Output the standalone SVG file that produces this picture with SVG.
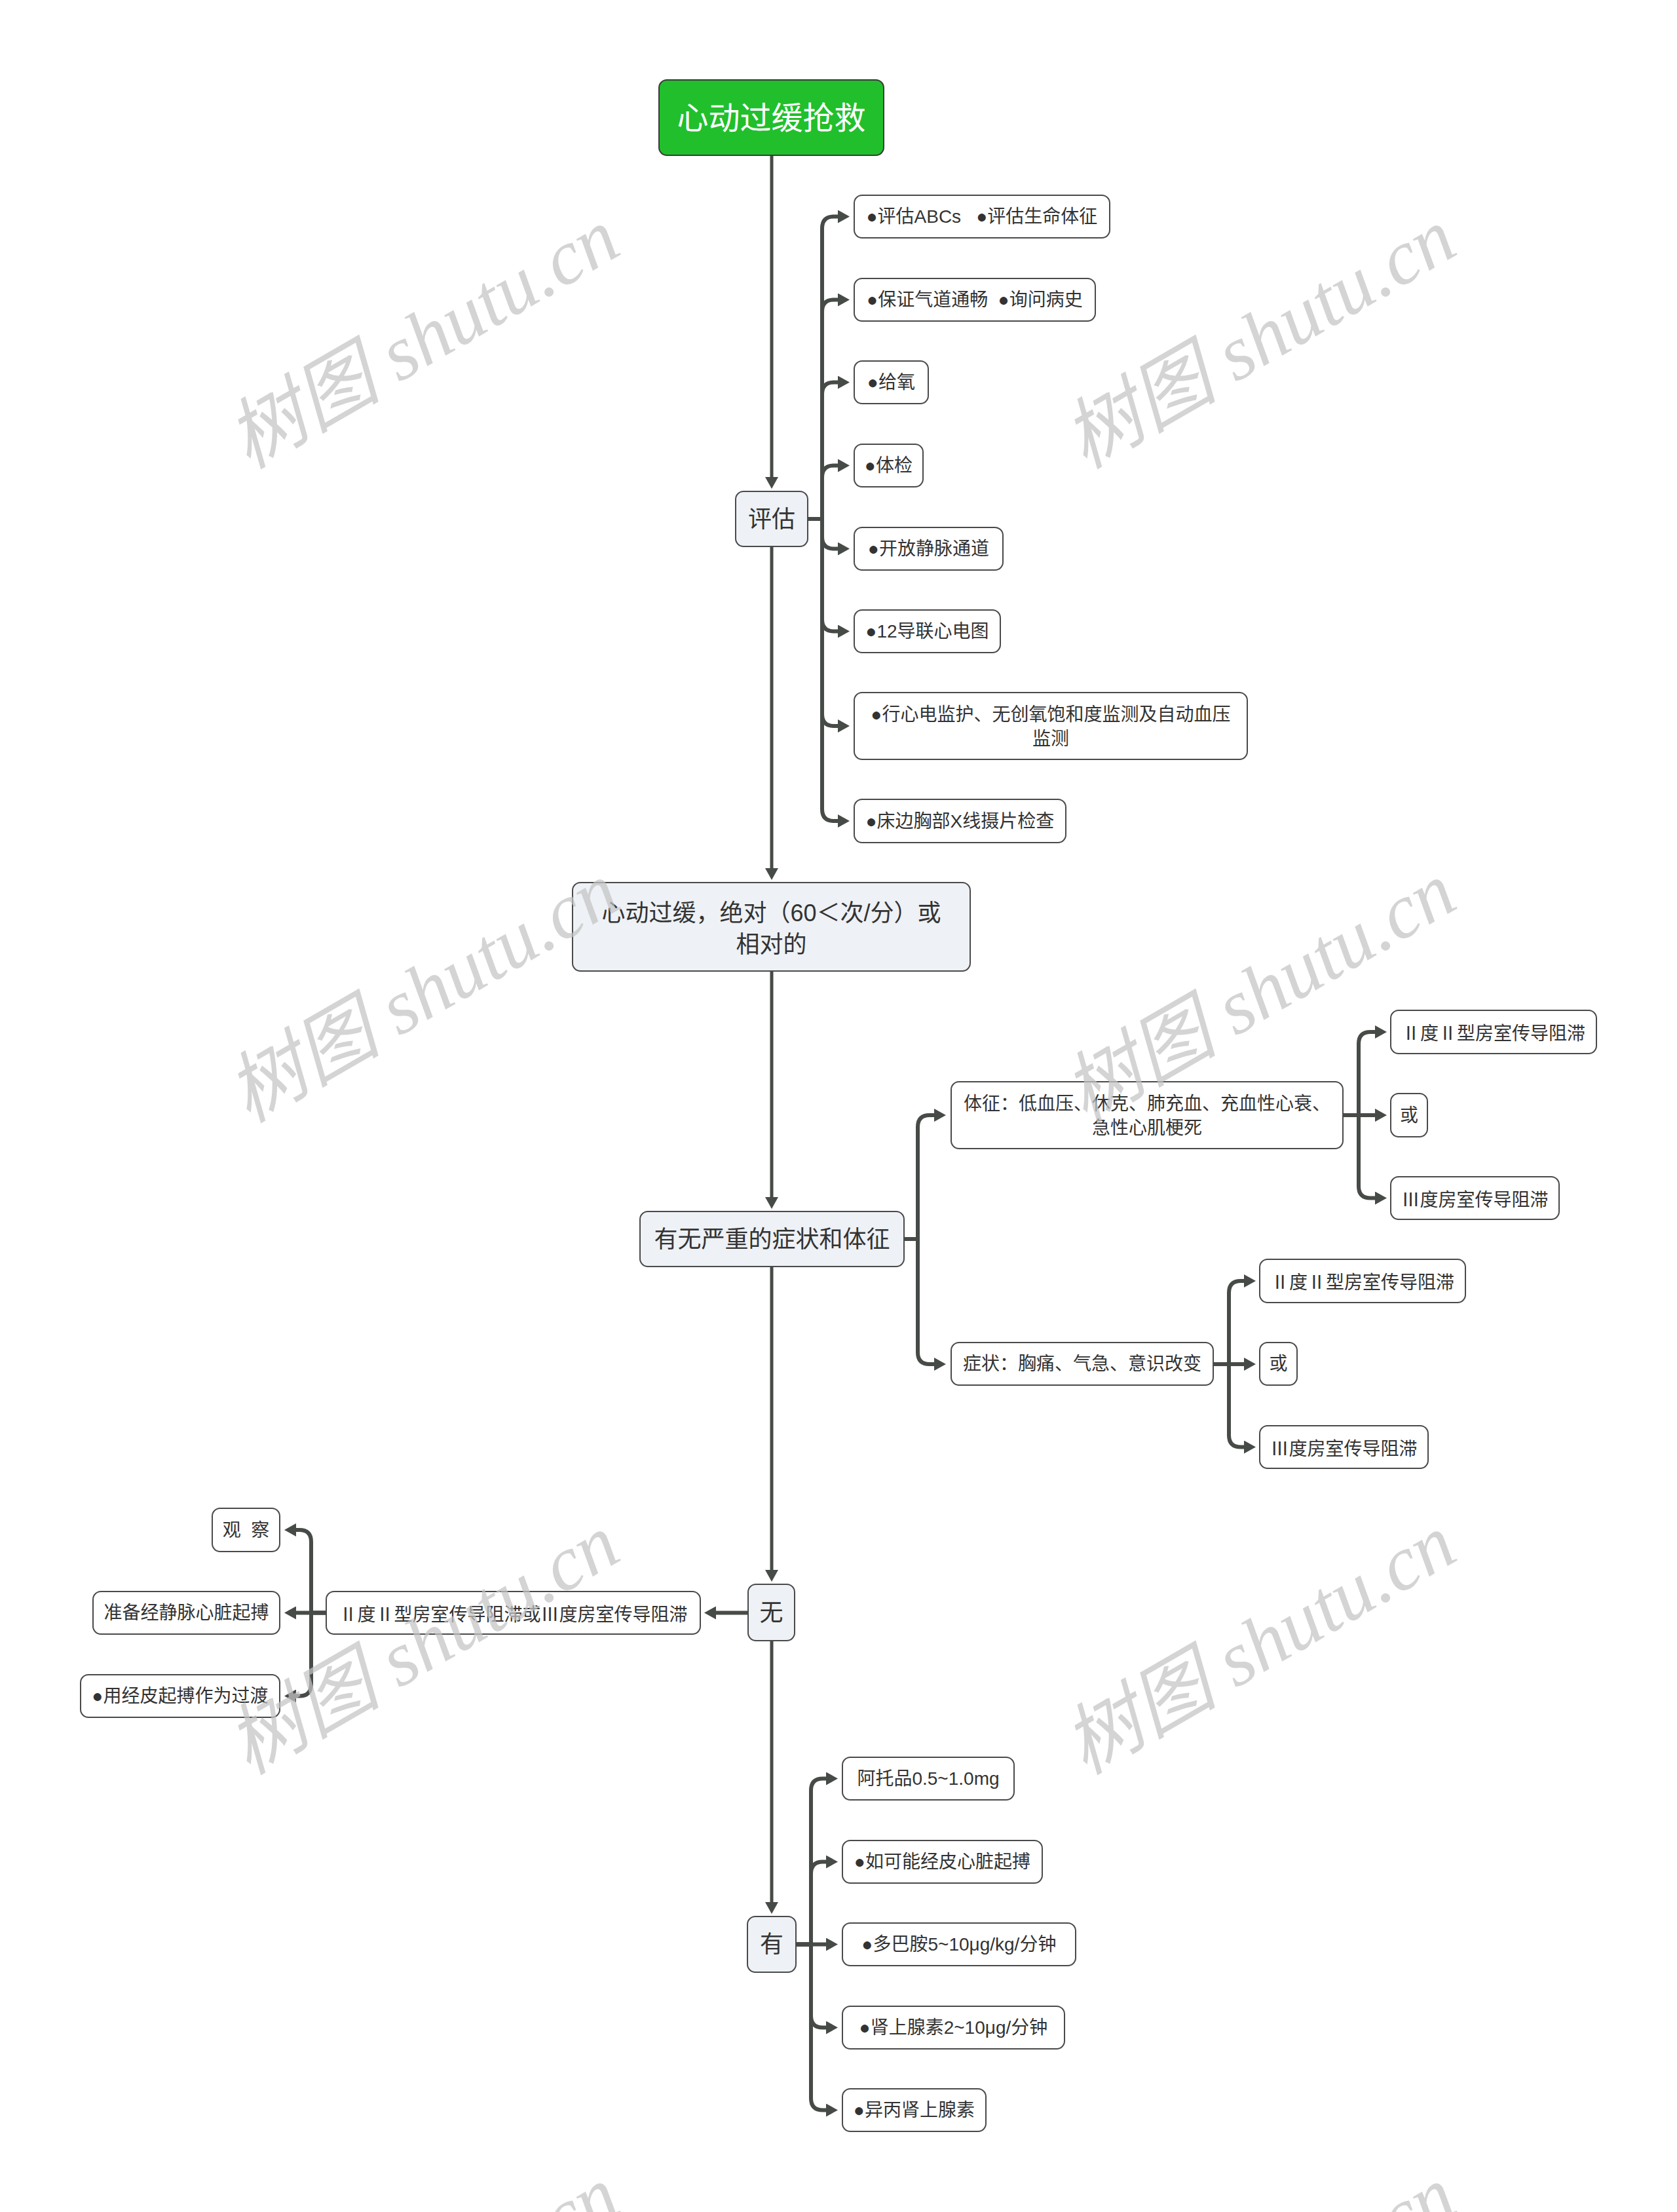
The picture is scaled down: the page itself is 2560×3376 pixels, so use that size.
<svg xmlns="http://www.w3.org/2000/svg" width="2560" height="3376" viewBox="0 0 2560 3376">
<defs>
<marker id="ah" viewBox="0 0 18 20" refX="8" refY="10" markerWidth="18" markerHeight="20" markerUnits="userSpaceOnUse" orient="auto">
<path d="M0,0 L18,10 L0,20 z" fill="#474b47"/>
</marker>
<style>
.bg{fill:#ffffff}
.root{fill:#21bf2c;stroke:#3a3a3a;stroke-width:2}
.main{fill:#eef1f5;stroke:#4a4a4a;stroke-width:2}
.leaf{fill:#ffffff;stroke:#4a4a4a;stroke-width:2}
.t{font-family:'Liberation Sans','Noto Sans CJK SC',sans-serif;fill:#333333;text-anchor:middle;dominant-baseline:central}
.cjk{font-family:'Noto Sans CJK SC',sans-serif;font-feature-settings:"fwid" 1}
.t28{font-size:28px}
.t36{font-size:36px}
.t48{font-size:48px;fill:#ffffff}
.ln{fill:none;stroke:#474b47;stroke-width:6;marker-end:url(#ah)}
.mln{fill:none;stroke:#474b47;stroke-width:5;marker-end:url(#ah)}
.wm{font-family:'Liberation Serif','Noto Sans CJK SC',serif;font-style:italic;font-size:118px;fill:#c4c4c4;opacity:0.72;text-anchor:middle;dominant-baseline:central}
</style>
</defs>
<rect class="bg" x="0" y="0" width="2560" height="3376"/>

<g id="connectors">
<path class="mln" d="M1178,237 V736"/>
<path class="mln" d="M1178,834 V1333"/>
<path class="mln" d="M1178,1482 V1835"/>
<path class="mln" d="M1178,1933 V2404"/>
<path class="mln" d="M1178,2504 V2911"/>

<path class="ln" d="M1233,792 H1255 V348.5 Q1255,330.5 1273,330.5 H1287"/>
<path class="ln" d="M1233,792 H1255 V475.5 Q1255,457.5 1273,457.5 H1287"/>
<path class="ln" d="M1233,792 H1255 V601.5 Q1255,583.5 1273,583.5 H1287"/>
<path class="ln" d="M1233,792 H1255 V728.5 Q1255,710.5 1273,710.5 H1287"/>
<path class="ln" d="M1233,792 H1255 V819.5 Q1255,837.5 1273,837.5 H1287"/>
<path class="ln" d="M1233,792 H1255 V945.5 Q1255,963.5 1273,963.5 H1287"/>
<path class="ln" d="M1233,792 H1255 V1090 Q1255,1108 1273,1108 H1287"/>
<path class="ln" d="M1233,792 H1255 V1235 Q1255,1253 1273,1253 H1287"/>

<path class="ln" d="M1380,1891 H1401 V1720 Q1401,1702 1419,1702 H1434"/>
<path class="ln" d="M1380,1891 H1401 V2064 Q1401,2082 1419,2082 H1434"/>

<path class="ln" d="M2050,1702 H2074 V1593 Q2074,1575 2092,1575 H2107"/>
<path class="ln" d="M2050,1702 H2107"/>
<path class="ln" d="M2050,1702 H2074 V1810.5 Q2074,1828.5 2092,1828.5 H2107"/>

<path class="ln" d="M1852,2082 H1876 V1973 Q1876,1955 1894,1955 H1907"/>
<path class="ln" d="M1852,2082 H1907"/>
<path class="ln" d="M1852,2082 H1876 V2190.5 Q1876,2208.5 1894,2208.5 H1907"/>

<path class="ln" d="M1142,2461.5 H1085"/>
<path class="ln" d="M498,2461.5 H475 V2353 Q475,2335 457,2335 H444"/>
<path class="ln" d="M498,2461.5 H444"/>
<path class="ln" d="M498,2461.5 H475 V2570.5 Q475,2588.5 457,2588.5 H444"/>

<path class="ln" d="M1215,2967.5 H1238 V2732.5 Q1238,2714.5 1256,2714.5 H1269"/>
<path class="ln" d="M1215,2967.5 H1238 V2859.5 Q1238,2841.5 1256,2841.5 H1269"/>
<path class="ln" d="M1215,2967.5 H1269"/>
<path class="ln" d="M1215,2967.5 H1238 V3076.5 Q1238,3094.5 1256,3094.5 H1269"/>
<path class="ln" d="M1215,2967.5 H1238 V3202.5 Q1238,3220.5 1256,3220.5 H1269"/>
</g>

<g id="n-root"><rect class="root" x="1006" y="122" width="343" height="115" rx="12"/><text class="t t48" x="1177.5" y="180">心动过缓抢救</text></g>

<g id="n-pinggu"><rect class="main" x="1123" y="750" width="110" height="84" rx="12"/><text class="t t36" x="1178" y="792">评估</text></g>
<g id="n-p1"><rect class="leaf" x="1304" y="298" width="390" height="65" rx="12"/><text class="t t28" x="1499" y="330.5" style="white-space:pre">●评估ABCs   ●评估生命体征</text></g>
<g id="n-p2"><rect class="leaf" x="1304" y="425" width="368" height="65" rx="12"/><text class="t t28" x="1488" y="457.5" style="white-space:pre">●保证气道通畅  ●询问病史</text></g>
<g id="n-p3"><rect class="leaf" x="1304" y="551" width="113" height="65" rx="12"/><text class="t t28" x="1360.5" y="583.5">●给氧</text></g>
<g id="n-p4"><rect class="leaf" x="1304" y="678" width="105" height="65" rx="12"/><text class="t t28" x="1356.5" y="710.5">●体检</text></g>
<g id="n-p5"><rect class="leaf" x="1304" y="805" width="227" height="65" rx="12"/><text class="t t28" x="1417.5" y="837.5">●开放静脉通道</text></g>
<g id="n-p6"><rect class="leaf" x="1304" y="931" width="223" height="65" rx="12"/><text class="t t28" x="1415.5" y="963.5">●12导联心电图</text></g>
<g id="n-p7"><rect class="leaf" x="1304" y="1057" width="600" height="102" rx="12"/><text class="t t28" x="1604" y="1090">●行心电监护、无创氧饱和度监测及自动血压</text><text class="t t28" x="1604" y="1127">监测</text></g>
<g id="n-p8"><rect class="leaf" x="1304" y="1220" width="323" height="66" rx="12"/><text class="t t28" x="1465.5" y="1253">●床边胸部X线摄片检查</text></g>

<g id="n-xdgh"><rect class="main" x="874" y="1347" width="607" height="135" rx="12"/><text class="t t36" x="1177.5" y="1393">心动过缓，绝对（60＜次/分）或</text><text class="t t36" x="1177.5" y="1441">相对的</text></g>

<g id="n-ywyz"><rect class="main" x="977" y="1849" width="403" height="84" rx="12"/><text class="t t36" x="1178.5" y="1891">有无严重的症状和体征</text></g>
<g id="n-tizheng"><rect class="leaf" x="1452" y="1651" width="598" height="102" rx="12"/><text class="t t28" x="1751" y="1684">体征：低血压、休克、肺充血、充血性心衰、</text><text class="t t28" x="1751" y="1721">急性心肌梗死</text></g>
<g id="n-zhengzhuang"><rect class="leaf" x="1452" y="2049" width="400" height="65" rx="12"/><text class="t t28" x="1652" y="2081.5">症状：胸痛、气急、意识改变</text></g>
<g id="n-tz1"><rect class="leaf" x="2123" y="1542" width="314" height="66" rx="12"/><text class="t t28 cjk" x="2280" y="1575">Ⅱ度Ⅱ型房室传导阻滞</text></g>
<g id="n-tz2"><rect class="leaf" x="2123" y="1669" width="56" height="66" rx="12"/><text class="t t28" x="2151" y="1702">或</text></g>
<g id="n-tz3"><rect class="leaf" x="2123" y="1796" width="257" height="65" rx="12"/><text class="t t28 cjk" x="2251.5" y="1828.5">Ⅲ度房室传导阻滞</text></g>
<g id="n-zz1"><rect class="leaf" x="1923" y="1922" width="314" height="66" rx="12"/><text class="t t28 cjk" x="2080" y="1955">Ⅱ度Ⅱ型房室传导阻滞</text></g>
<g id="n-zz2"><rect class="leaf" x="1923" y="2049" width="57" height="65" rx="12"/><text class="t t28" x="1951.5" y="2081.5">或</text></g>
<g id="n-zz3"><rect class="leaf" x="1923" y="2176" width="257" height="65" rx="12"/><text class="t t28 cjk" x="2051.5" y="2208.5">Ⅲ度房室传导阻滞</text></g>

<g id="n-wu"><rect class="main" x="1142" y="2418" width="71" height="86" rx="12"/><text class="t t36" x="1177.5" y="2461">无</text></g>
<g id="n-wu-mid"><rect class="leaf" x="498" y="2429" width="571" height="65" rx="12"/><text class="t t28 cjk" x="783.5" y="2461.5">Ⅱ度Ⅱ型房室传导阻滞或Ⅲ度房室传导阻滞</text></g>
<g id="n-w1"><rect class="leaf" x="324" y="2302" width="103" height="66" rx="12"/><text class="t t28" x="375.5" y="2335" style="white-space:pre">观  察</text></g>
<g id="n-w2"><rect class="leaf" x="142" y="2429" width="285" height="65" rx="12"/><text class="t t28" x="284.5" y="2461.5">准备经静脉心脏起搏</text></g>
<g id="n-w3"><rect class="leaf" x="123" y="2556" width="304" height="65" rx="12"/><text class="t t28" x="275" y="2588.5">●用经皮起搏作为过渡</text></g>

<g id="n-you"><rect class="main" x="1141" y="2925" width="74" height="85" rx="12"/><text class="t t36" x="1178" y="2967.5">有</text></g>
<g id="n-y1"><rect class="leaf" x="1286" y="2682" width="262" height="65" rx="12"/><text class="t t28" x="1417" y="2714.5">阿托品0.5~1.0mg</text></g>
<g id="n-y2"><rect class="leaf" x="1286" y="2809" width="305" height="65" rx="12"/><text class="t t28" x="1438.5" y="2841.5">●如可能经皮心脏起搏</text></g>
<g id="n-y3"><rect class="leaf" x="1286" y="2935" width="356" height="65" rx="12"/><text class="t t28" x="1464" y="2967.5">●多巴胺5~10μg/kg/分钟</text></g>
<g id="n-y4"><rect class="leaf" x="1286" y="3062" width="339" height="65" rx="12"/><text class="t t28" x="1455.5" y="3094.5">●肾上腺素2~10μg/分钟</text></g>
<g id="n-y5"><rect class="leaf" x="1286" y="3188" width="219" height="65" rx="12"/><text class="t t28" x="1395.5" y="3220.5">●异丙肾上腺素</text></g>

<g id="watermarks">
<text class="wm" x="646" y="517" transform="rotate(-30 646 517)">树图 shutu.cn</text>
<text class="wm" x="1923" y="517" transform="rotate(-30 1923 517)">树图 shutu.cn</text>
<text class="wm" x="646" y="1515" transform="rotate(-30 646 1515)">树图 shutu.cn</text>
<text class="wm" x="1923" y="1515" transform="rotate(-30 1923 1515)">树图 shutu.cn</text>
<text class="wm" x="646" y="2510" transform="rotate(-30 646 2510)">树图 shutu.cn</text>
<text class="wm" x="1923" y="2510" transform="rotate(-30 1923 2510)">树图 shutu.cn</text>
<text class="wm" x="646" y="3505" transform="rotate(-30 646 3505)">树图 shutu.cn</text>
<text class="wm" x="1923" y="3505" transform="rotate(-30 1923 3505)">树图 shutu.cn</text>
</g>
</svg>
